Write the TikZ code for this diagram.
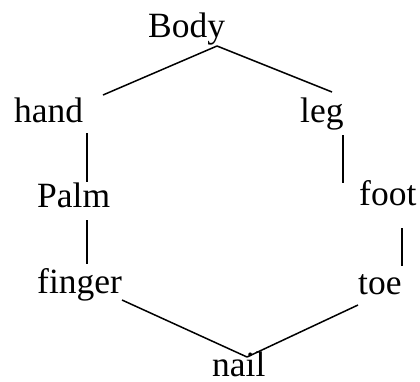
\documentclass[tikz,border=0pt]{standalone}
\usepackage{fontspec}
\setmainfont{Liberation Serif}
\begin{document}
\begin{tikzpicture}[x=1pt,y=-1pt,
  lbl/.style={anchor=base west,inner sep=0pt,font=\fontsize{35.5}{40}\selectfont},
  edge/.style={line width=1.5pt}]
\useasboundingbox (0,0) rectangle (420,381);
\node[lbl] (body) at (148,37) {Body};
\node[lbl] (hand) at (14,122) {hand};
\node[lbl] (leg) at (300,122) {leg};
\node[lbl] (palm) at (37,207) {Palm};
\node[lbl] (foot) at (359,205) {foot};
\node[lbl] (finger) at (37,293) {finger};
\node[lbl] (toe) at (358,294) {toe};
\node[lbl] (nail) at (212,376) {nail};
\coordinate (bodyS) at (217,46);
\coordinate (handNE) at (103,95);
\coordinate (legNE) at (332,92);
\coordinate (handS) at (87,133);
\coordinate (palmN) at (87,182);
\coordinate (palmS) at (87,220);
\coordinate (fingerN) at (87,264);
\coordinate (legS) at (343,135);
\coordinate (footN) at (343,183);
\coordinate (footS) at (402,228);
\coordinate (toeN) at (402,266);
\coordinate (fingerSE) at (122,300);
\coordinate (nailN) at (247,357);
\coordinate (toeSW) at (358,305);
\draw[edge] (bodyS) -- (handNE);
\draw[edge] (bodyS) -- (legNE);
\draw[edge] (handS) -- (palmN);
\draw[edge] (palmS) -- (fingerN);
\draw[edge] (legS) -- (footN);
\draw[edge] (footS) -- (toeN);
\draw[edge] (fingerSE) -- (nailN);
\draw[edge] (nailN) -- (toeSW);
\end{tikzpicture}
\end{document}
